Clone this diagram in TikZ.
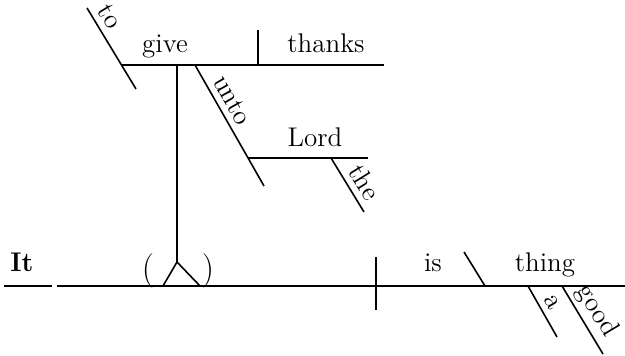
\documentclass[tikz,border=0pt]{standalone}
\usepackage{tikz}
\usetikzlibrary{positioning}

\begin{document}
\begin{tikzpicture}[
    x=0.5pt, y=-0.5pt,
    diagline/.style = {line width=0.8pt, black},
    word/.style = {anchor=base, inner sep=0pt, font=\fontsize{13.5}{16}\selectfont},
    slantword/.style = {sloped, above, inner sep=3pt, font=\fontsize{13.5}{16}\selectfont}
]
\useasboundingbox (0,0) rectangle (625,356);

% main line
\coordinate (itL) at (4,286);
\coordinate (itR) at (52,286);
\coordinate (baseL) at (57,286);
\coordinate (baseR) at (625,286);
\draw[diagline] (itL) -- (itR);
\draw[diagline] (baseL) -- (baseR);
\node[word, font=\fontsize{13.5}{16}\selectfont\bfseries] (it) at (22,272) {It};
\coordinate (divT) at (376,257);
\coordinate (divB) at (376,310);
\draw[diagline] (divT) -- (divB);
\node[word] (is) at (433,272) {is};
\coordinate (compT) at (464,252);
\coordinate (compB) at (485,286);
\draw[diagline] (compT) -- (compB);
\node[word] (thing) at (545,272) {thing};
\coordinate (aT) at (528,286);
\coordinate (aB) at (557,337);
\draw[diagline] (aT) -- (aB) node[slantword, pos=0.45] (a) {a};
\coordinate (goodT) at (562,286);
\coordinate (goodB) at (603,354);
\draw[diagline] (goodT) -- (goodB) node[slantword, pos=0.5, inner sep=2pt] (good) {good};

% pedestal
\coordinate (pedTop) at (177,65);
\coordinate (pedApex) at (177,262);
\coordinate (pedL) at (163,286);
\coordinate (pedR) at (200,286);
\draw[diagline] (pedTop) -- (pedApex);
\draw[diagline] (pedL) -- (pedApex) -- (pedR);
\node[word, font=\LARGE] (lpar) at (148,280) {(};
\node[word, font=\LARGE] (rpar) at (208,280) {)};

% infinitive phrase
\coordinate (upL) at (122,65);
\coordinate (upR) at (384,65);
\draw[diagline] (upL) -- (upR);
\node[word] (give) at (165,53) {give};
\coordinate (objT) at (258,30);
\coordinate (objB) at (258,65);
\draw[diagline] (objT) -- (objB);
\node[word] (thanks) at (326,53) {thanks};
\coordinate (toT) at (87,8);
\coordinate (toB) at (136,89);
\draw[diagline] (toT) -- (toB) node[slantword, pos=0.2] (to) {to};

% prepositional phrase
\coordinate (untoT) at (195,65);
\coordinate (untoB) at (264,186);
\draw[diagline] (untoT) -- (untoB) node[slantword, pos=0.35] (unto) {unto};
\coordinate (lordL) at (248,158);
\coordinate (lordR) at (368,158);
\draw[diagline] (lordL) -- (lordR);
\node[word] (lord) at (315,147) {Lord};
\coordinate (theT) at (331,158);
\coordinate (theB) at (364,212);
\draw[diagline] (theT) -- (theB) node[slantword, pos=0.6] (the) {the};

\end{tikzpicture}
\end{document}
